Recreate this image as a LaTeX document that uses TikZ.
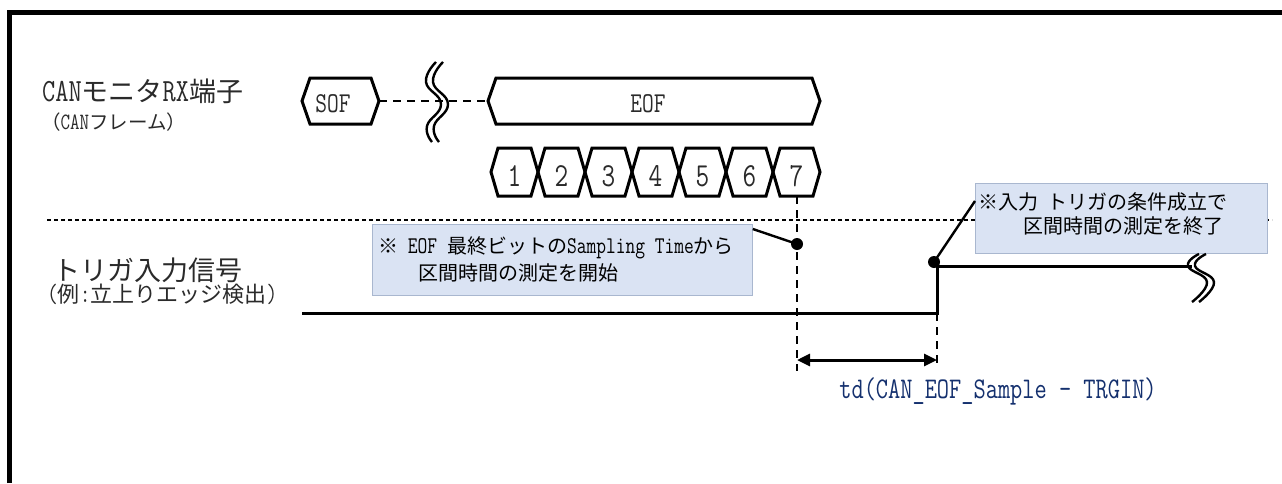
\documentclass[tikz,border=0pt]{standalone}
\usepackage{fontspec}
\setmainfont{Noto Sans CJK JP}
\newfontfamily\latmono[Scale=1.2,FakeStretch=0.79]{Latin Modern Mono}
\usetikzlibrary{arrows.meta}
\definecolor{boxfill}{HTML}{DAE3F3}
\definecolor{boxline}{HTML}{A9B7CF}
\definecolor{navy}{HTML}{14306E}
\definecolor{txt}{HTML}{2A2A2A}
\newcommand\fsz[1]{\fontsize{#1}{#1}\selectfont}
\begin{document}
\begin{tikzpicture}[x=1pt,y=-1pt,
  sig/.style={line width=3pt,line join=miter},
  thindash/.style={line width=1.1pt,dash pattern=on 4pt off 3pt},
  vdash/.style={line width=2pt,dash pattern=on 8pt off 6pt},
  brk/.style={line width=2.4pt},
  conn/.style={line width=2.4pt},
  dot/.style={circle,fill=black,inner sep=0pt,minimum size=12pt},
  arr/.style={line width=3pt,{Triangle[length=13pt,width=12pt]}-{Triangle[length=13pt,width=12pt]}},
  lbl/.style={inner sep=0pt,text=txt},
  hexlbl/.style={inner sep=0pt,text=txt,font=\latmono\fsz{24}},
  bitlbl/.style={inner sep=0pt,text=txt,font=\latmono\fsz{28}},
  callout/.style={draw=boxline,fill=boxfill,line width=0.8pt,inner sep=0pt,anchor=north west},
  ctext/.style={inner sep=0pt,text=black,font=\fsz{20}},
]
\useasboundingbox (0,0) rectangle (1282,483);
% frame
\draw[line width=5pt] (9.5,483) -- (9.5,12.5) -- (1282,12.5);

% labels
\node[lbl,anchor=base west,font=\fsz{27}] (canlbl) at (42,101) {{\latmono CAN}モニタ{\latmono RX}端子};
\node[lbl,anchor=base west,font=\fsz{19.5}] (canfr) at (41,129) {（{\latmono CAN}フレーム）};
\node[lbl,anchor=base west,font=\fsz{27}] (trglbl) at (53,280) {トリガ入力信号};
\node[lbl,anchor=base west,font=\fsz{22}] (trgex) at (47,302) {{\latmono (}例{\latmono :}立上りエッジ検出{\latmono )}};

% divider
\draw[thindash] (47,220) -- (1272,220);

% SOF
\draw[sig] (302,101) -- (310,78) -- (371,78) -- (379,101) -- (371,124) -- (310,124) -- cycle;
\node[hexlbl,anchor=base] (sof) at (333,112) {SOF};
\coordinate (sofr) at (379,101);
\coordinate (eofl) at (488,101);
\draw[vdash] (sofr) -- (eofl);
% break symbol
\draw[brk] plot[smooth,tension=0.8] coordinates {(436,62) (426,82) (441,104) (427,126) (432,142)};
\draw[brk] plot[smooth,tension=0.8] coordinates {(443,62) (433,82) (448,104) (434,126) (439,142)};
% EOF
\draw[sig] (488,101) -- (496,78) -- (812,78) -- (820,101) -- (812,124) -- (496,124) -- cycle;
\node[hexlbl,anchor=base] (eof) at (648,112) {EOF};
% bits
\foreach \i in {1,...,7} {
  \pgfmathsetmacro\a{491+47*(\i-1)}
  \pgfmathsetmacro\b{491+47*\i}
  \draw[sig] (\a,172) -- (\a+7,148) -- (\b-7,148) -- (\b,172) -- (\b-7,196) -- (\a+7,196) -- cycle;
  \node[bitlbl,anchor=base] (bit\i) at ({(\a+\b)/2},186) {\i};
}

% callout boxes
\node[callout,minimum width=380pt,minimum height=71pt] (c1) at (372,224) {};
\node[ctext,anchor=base west] (c1a) at (378,253) {※{\latmono\ EOF\ }最終ビットの{\latmono Sampling Time}から};
\node[ctext,anchor=base west] (c1b) at (418,280) {区間時間の測定を開始};
\node[callout,minimum width=292pt,minimum height=70pt] (c2) at (975,183) {};
\node[ctext,anchor=base west] (c2a) at (978,209) {※入力{\latmono\ }トリガの条件成立で};
\node[ctext,anchor=base west] (c2b) at (1023,233) {区間時間の測定を終了};

% vertical dashed markers
\coordinate (b7bot) at (797,196);
\coordinate (v1end) at (797,371);
\draw[vdash] (b7bot) -- (v1end);
\coordinate (rise) at (937,313);
\coordinate (v2end) at (937,368);
\draw[vdash] (rise) -- (v2end);

% trigger signal
\coordinate (tstart) at (302,313);
\coordinate (thigh) at (937,266);
\coordinate (tend) at (1192,266);
\draw[sig] (tstart) -- (rise) -- (thigh) -- (tend);
\draw[brk] plot[smooth,tension=0.8] coordinates {(1199,254) (1188,266) (1207,282) (1192,302)};
\draw[brk] plot[smooth,tension=0.8] coordinates {(1206,254) (1195,266) (1214,282) (1199,302)};

% dots and connectors
\node[dot] (d1) at (797,244) {};
\node[dot] (d2) at (934,262) {};
\draw[conn] ([yshift=-5pt]c1.north east) -- (d1.center);
\draw[conn] ([yshift=-18pt]c2.north west) -- (d2.center);

% measurement arrow
\coordinate (a1) at (797,360);
\coordinate (a2) at (937,360);
\draw[arr] (a1) -- (a2);
\node[inner sep=0pt,anchor=base,text=navy,font=\latmono\fsz{25}] (td) at (998,398) {td(CAN\_EOF\_Sample - TRGIN)};
\end{tikzpicture}
\end{document}
